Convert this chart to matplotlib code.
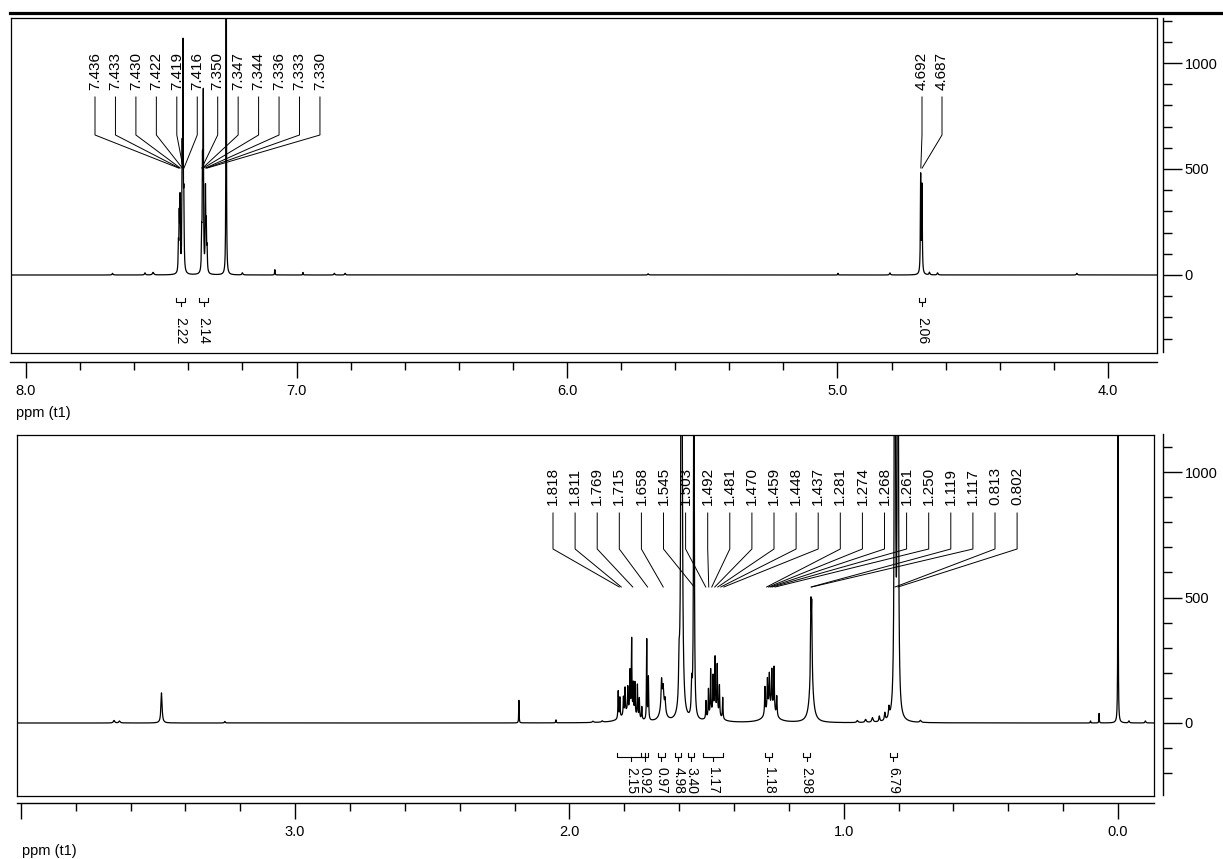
import numpy as np
import matplotlib.pyplot as plt
from matplotlib.lines import Line2D

plt.rcParams['font.family'] = ['Liberation Sans', 'DejaVu Sans']

###data: upper trace (8.0 - 3.8 ppm)###
top_ppm = [7.680, 7.560, 7.530, 7.4365, 7.4335, 7.4305, 7.4225, 7.4195, 7.4165,
           7.3505, 7.3475, 7.3445, 7.3365, 7.3335, 7.3305, 7.260, 7.200, 7.080,
           6.976, 6.860, 6.820, 5.700, 4.998, 4.806, 4.6925, 4.6875, 4.660, 4.630, 4.115]
top_height = [8, 10, 12, 120, 240, 330, 520, 1000, 300,
              150, 480, 800, 380, 200, 100, 4000, 10, 25,
              12, 8, 8, 6, 8, 10, 460, 410, 12, 10, 8]
top_hw = [0.002, 0.002, 0.003, 0.0012, 0.0012, 0.0012, 0.0012, 0.0010, 0.0012,
          0.0012, 0.0012, 0.0010, 0.0012, 0.0012, 0.0012, 0.0006, 0.002, 0.001,
          0.001, 0.002, 0.002, 0.002, 0.001, 0.002, 0.0012, 0.0012, 0.002, 0.002, 0.002]
top_labels = ['7.436', '7.433', '7.430', '7.422', '7.419', '7.416',
              '7.350', '7.347', '7.344', '7.336', '7.333', '7.330',
              '4.692', '4.687']
top_int_ranges = [(7.445, 7.412), (7.360, 7.327), (4.700, 4.677)]
top_int_values = ['2.22', '2.14', '2.06']

###data: lower trace (4.0 - -0.1 ppm)###
low_ppm = [3.660, 3.640, 3.487, 3.256, 2.184, 2.049, 1.914, 1.880,
           1.822, 1.816, 1.803, 1.797, 1.787, 1.779, 1.773, 1.767, 1.761, 1.752,
           1.745, 1.736, 1.718, 1.712, 1.785,
           1.664, 1.658, 1.651, 1.660,
           1.600, 1.591, 1.554, 1.546,
           1.502, 1.493, 1.485, 1.476, 1.469, 1.461, 1.453, 1.441, 1.470,
           1.287, 1.278, 1.271, 1.262, 1.254, 1.244, 1.268,
           1.1195, 1.1165, 1.118,
           0.950, 0.920, 0.895, 0.870, 0.850, 0.835, 0.8135, 0.8025, 0.720,
           0.100, 0.069, 0.000, 0.000, -0.040, -0.100]
low_height = [10, 8, 120, 6, 90, 12, 5, 5,
              110, 80, 70, 100, 95, 160, 290, 120, 130, 130,
              80, 50, 320, 170, 45,
              100, 60, 50, 80,
              150, 2500, 120, 1800,
              70, 110, 180, 140, 210, 190, 120, 85, 45,
              110, 125, 135, 155, 180, 80, 55,
              280, 270, 170,
              8, 12, 18, 22, 30, 40, 3000, 3000, 8,
              8, 38, 3500, 120, 8, 8]
low_hw = [0.003, 0.003, 0.0025, 0.002, 0.0008, 0.001, 0.003, 0.003,
          0.0012, 0.0012, 0.0012, 0.0012, 0.0012, 0.0012, 0.0010, 0.0012, 0.0012, 0.0012,
          0.0012, 0.0012, 0.0010, 0.0012, 0.025,
          0.002, 0.002, 0.002, 0.009,
          0.002, 0.0025, 0.002, 0.0015,
          0.0012, 0.0012, 0.0012, 0.0012, 0.0012, 0.0012, 0.0012, 0.0012, 0.018,
          0.0015, 0.0015, 0.0015, 0.0015, 0.0015, 0.0015, 0.02,
          0.0015, 0.0015, 0.008,
          0.003, 0.003, 0.003, 0.002, 0.002, 0.002, 0.0018, 0.0018, 0.003,
          0.001, 0.0008, 0.0004, 0.0015, 0.002, 0.002]
low_labels = ['1.818', '1.811', '1.769', '1.715', '1.658', '1.545', '1.503',
              '1.492', '1.481', '1.470', '1.459', '1.448', '1.437', '1.281',
              '1.274', '1.268', '1.261', '1.250', '1.119', '1.117', '0.813', '0.802']
low_int_ranges = [(1.826, 1.724), (1.739, 1.713), (1.677, 1.652), (1.614, 1.592),
                  (1.566, 1.544), (1.513, 1.440), (1.287, 1.261), (1.148, 1.123),
                  (0.831, 0.806)]
low_int_values = ['2.15', '0.92', '0.97', '4.98', '3.40', '1.17', '1.18', '2.98', '6.79']

W, H = 1223, 859
fig = plt.figure(figsize=(W / 100, H / 100), dpi=100)


def rect(x0, y0, x1, y1):
    return [x0 / W, 1 - y1 / H, (x1 - x0) / W, (y1 - y0) / H]


def draw_panel(box, xline, yline, px2ppm, px2val, majors, major_labels, yminor,
               ppm, height, hw, labels, groups, label_px, ints, int_text, int_px):
    x0, y0, x1, y1 = box
    ax = fig.add_axes(rect(x0, y0, x1, y1))
    ax.set_xticks([])
    ax.set_yticks([])
    ax.set_xlim(px2ppm(x0), px2ppm(x1))
    ax.set_ylim(px2val(y1), px2val(y0))
    for s in ax.spines.values():
        s.set_linewidth(0.9)

    grid = np.arange(px2ppm(x1), px2ppm(x0), 0.0002)
    spec = np.zeros_like(grid)
    for p, h, w in zip(ppm, height, hw):
        spec += h * w ** 2 / ((grid - p) ** 2 + w ** 2)
    ax.plot(grid, spec, color='black', lw=0.9, zorder=3)

    # peak labels with their leader lines
    t_bot, l_top, l_knee, l_end = [px2val(v) for v in label_px]
    for i0, i1, start, step in groups:
        for k, lab in enumerate(labels[i0:i1]):
            lx = px2ppm(start + k * step)
            ax.text(lx, t_bot, lab, rotation=90, ha='center', va='bottom',
                    fontsize=11, zorder=2)
            ax.plot([lx, lx, float(lab)], [l_top, l_knee, l_end],
                    color='black', lw=0.7, zorder=2)

    # integrals
    e, hz, c, t = [px2val(v) for v in int_px]
    for (a, b), txt in zip(ints, int_text):
        m = (a + b) / 2
        ax.plot([a, a, b, b], [e, hz, hz, e], color='black', lw=0.8)
        ax.plot([m, m], [hz, c], color='black', lw=0.8)
        ax.text(m, t, txt, rotation=-90, ha='center', va='top', fontsize=10,
                clip_on=True)

    # ppm axis under the box
    ly, lx0 = xline
    axx = fig.add_axes(rect(lx0, ly - 1, x1, ly))
    axx.patch.set_visible(False)
    for k in ['top', 'left', 'right']:
        axx.spines[k].set_visible(False)
    axx.spines['bottom'].set_linewidth(1.0)
    axx.set_yticks([])
    axx.set_xticks(majors)
    axx.set_xticklabels(major_labels, fontsize=10.5)
    axx.set_xticks(np.round(np.arange(-0.2, 8.01, 0.2), 1), minor=True)
    axx.set_xlim(px2ppm(lx0), px2ppm(x1))
    axx.tick_params(axis='x', which='major', direction='out', length=11.5, width=1.0, pad=4)
    axx.tick_params(axis='x', which='minor', direction='out', length=5.8, width=1.0)

    # intensity axis at the right
    yx, yt, yb = yline
    axy = fig.add_axes(rect(yx - 1, yt, yx, yb))
    axy.patch.set_visible(False)
    for k in ['top', 'left', 'bottom']:
        axy.spines[k].set_visible(False)
    axy.spines['right'].set_linewidth(1.0)
    axy.set_xticks([])
    axy.yaxis.tick_right()
    axy.set_yticks([0, 500, 1000])
    axy.set_yticklabels(['0', '500', '1000'], fontsize=10.5)
    axy.set_yticks(yminor, minor=True)
    axy.set_ylim(px2val(yb), px2val(yt))
    axy.tick_params(axis='y', which='major', direction='out', length=13.7, width=1.0, pad=2)
    axy.tick_params(axis='y', which='minor', direction='out', length=6.5, width=1.0)
    return ax


draw_panel(box=(11, 18, 1157, 353), xline=(362, 10), yline=(1163, 18, 352),
           px2ppm=lambda x: 8.0 - (x - 26) / 270.5,
           px2val=lambda y: (275 - y) / 0.212,
           majors=[8, 7, 6, 5, 4], major_labels=['8.0', '7.0', '6.0', '5.0', '4.0'],
           yminor=np.arange(-300, 1201, 100),
           ppm=top_ppm, height=top_height, hw=top_hw,
           labels=top_labels, groups=[(0, 12, 95, 20.45), (12, 14, 922, 20)],
           label_px=(90, 97, 135, 168),
           ints=top_int_ranges, int_text=top_int_values, int_px=(298, 302, 306, 317))

draw_panel(box=(17, 435, 1154, 796), xline=(803, 17), yline=(1163, 434, 795),
           px2ppm=lambda x: (1118 - x) / 274.3,
           px2val=lambda y: (723 - y) / 0.251,
           majors=[4, 3, 2, 1, 0], major_labels=['', '3.0', '2.0', '1.0', '0.0'],
           yminor=np.arange(-200, 1101, 100),
           ppm=low_ppm, height=low_height, hw=low_hw,
           labels=low_labels, groups=[(0, 22, 553, 22.1)],
           label_px=(505, 513, 549, 587),
           ints=low_int_ranges, int_text=low_int_values, int_px=(753, 757, 761, 767))

fig.add_artist(Line2D([10 / W, 1.0], [1 - 13 / H, 1 - 13 / H], color='black', lw=2.3))
fig.text(16 / W, 1 - 413 / H, 'ppm (t1)', fontsize=10.5, va='center', ha='left')
fig.text(22 / W, 1 - 851 / H, 'ppm (t1)', fontsize=10.5, va='center', ha='left')

plt.savefig('out.png', dpi=100)
